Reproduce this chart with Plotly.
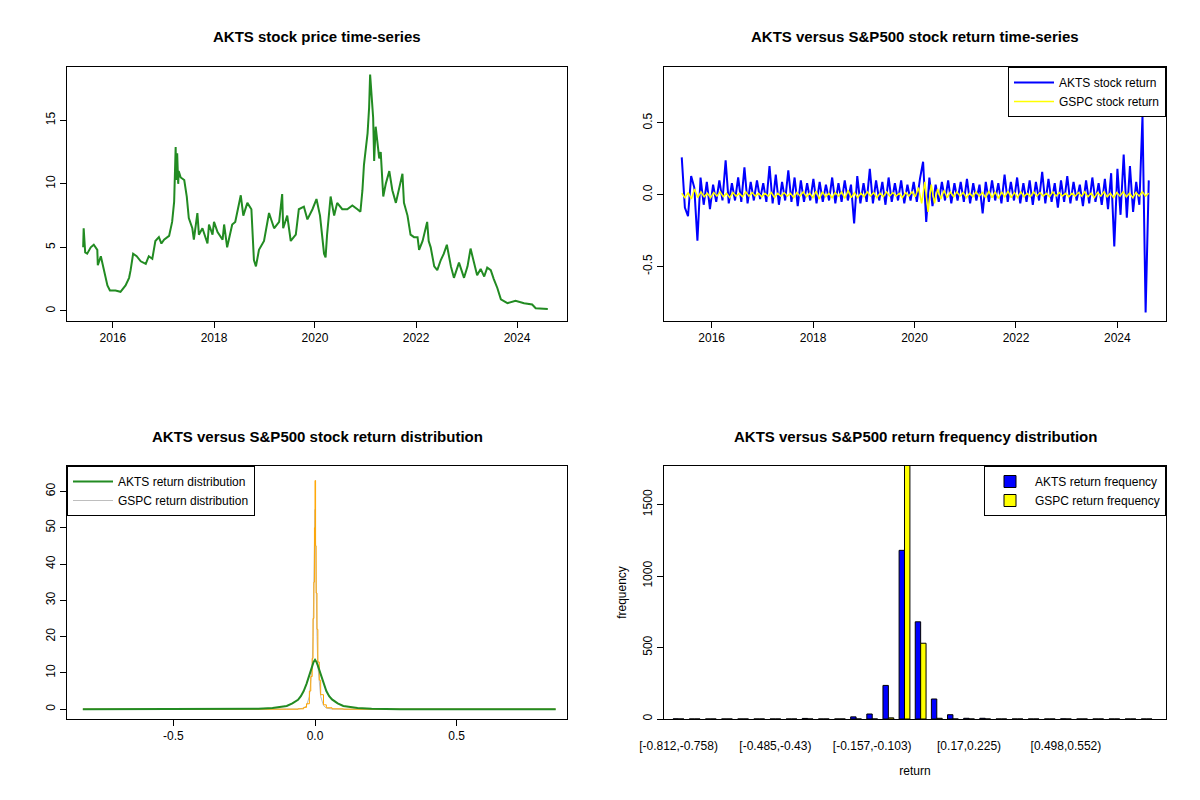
import numpy as np
import pandas as pd
import plotly.graph_objects as go

# ---------------- data ----------------
price_t = [2015.41,2015.42,2015.45,2015.49,2015.56,2015.62,2015.69,2015.70,2015.76,2015.82,2015.89,2015.94,2016.05,2016.15,2016.25,2016.32,2016.35,2016.40,2016.47,2016.55,2016.65,2016.71,2016.78,2016.84,2016.91,2016.96,2017.01,2017.11,2017.17,2017.21,2017.24,2017.25,2017.27,2017.29,2017.30,2017.34,2017.41,2017.46,2017.50,2017.57,2017.60,2017.67,2017.70,2017.77,2017.87,2017.90,2017.97,2018.00,2018.07,2018.17,2018.20,2018.26,2018.36,2018.42,2018.46,2018.53,2018.58,2018.66,2018.74,2018.79,2018.83,2018.89,2018.99,2019.09,2019.19,2019.29,2019.35,2019.37,2019.45,2019.52,2019.62,2019.68,2019.78,2019.85,2019.95,2020.03,2020.10,2020.18,2020.21,2020.24,2020.31,2020.38,2020.44,2020.54,2020.64,2020.74,2020.84,2020.90,2020.94,2020.97,2021.04,2021.07,2021.09,2021.12,2021.15,2021.17,2021.20,2021.27,2021.30,2021.35,2021.40,2021.47,2021.53,2021.60,2021.66,2021.73,2021.76,2021.83,2021.89,2021.96,2022.03,2022.06,2022.13,2022.22,2022.25,2022.29,2022.36,2022.42,2022.49,2022.55,2022.61,2022.69,2022.75,2022.85,2022.95,2023.02,2023.08,2023.15,2023.21,2023.28,2023.35,2023.41,2023.48,2023.54,2023.61,2023.68,2023.81,2023.97,2024.14,2024.30,2024.37,2024.61]
price_v = [5.0,6.5,4.6,4.5,5.0,5.2,4.8,3.6,4.3,3.2,2.0,1.6,1.6,1.5,2.0,2.6,3.2,4.5,4.3,3.9,3.7,4.3,4.1,5.5,5.8,5.3,5.6,5.9,7.0,8.6,12.9,10.3,12.4,10.0,11.0,10.5,10.3,9.0,7.3,6.5,5.6,7.7,6.0,6.5,5.3,6.8,6.0,7.0,6.2,5.6,6.8,5.0,6.8,7.0,7.8,9.1,7.5,8.5,8.0,4.0,3.5,4.8,5.5,7.7,6.5,7.0,9.2,6.5,7.5,5.5,6.0,8.0,8.2,7.2,8.0,8.8,7.5,4.5,4.2,6.0,9.0,7.5,8.5,8.0,8.0,8.3,8.0,7.8,9.5,11.5,14.0,16.0,18.6,17.0,15.2,11.8,14.5,12.0,12.5,9.0,10.0,11.0,9.5,8.5,9.5,10.8,8.5,7.5,6.0,5.8,5.8,4.8,5.5,7.0,5.5,5.0,3.5,3.2,4.0,4.5,5.2,3.5,2.6,3.8,2.6,3.5,4.9,3.8,2.8,3.3,2.7,3.4,3.2,2.5,1.8,0.9,0.6,0.8,0.6,0.5,0.2,0.15]

akts_ret = [0.26,-0.09,-0.15,0.13,0.05,-0.32,0.12,-0.07,0.09,-0.10,0.07,-0.05,0.10,-0.04,0.24,-0.06,0.08,-0.04,0.12,-0.05,0.19,-0.06,0.09,-0.04,0.10,-0.03,0.08,-0.05,0.20,-0.06,0.14,-0.07,0.09,-0.04,0.17,-0.05,0.12,-0.08,0.10,-0.05,0.08,-0.04,0.11,-0.06,0.09,-0.05,0.07,-0.04,0.12,-0.06,0.08,-0.05,0.10,-0.04,0.07,-0.20,0.13,-0.06,0.08,-0.05,0.18,-0.06,0.10,-0.04,0.09,-0.07,0.12,-0.05,0.08,-0.04,0.10,-0.06,0.07,-0.04,0.09,-0.05,0.11,0.23,-0.19,0.12,-0.08,0.07,-0.05,0.09,-0.04,0.10,-0.06,0.08,-0.04,0.09,-0.05,0.11,-0.06,0.08,-0.04,0.07,-0.13,0.09,-0.05,0.10,-0.04,0.08,-0.06,0.14,-0.05,0.09,-0.04,0.12,-0.06,0.08,-0.05,0.10,-0.07,0.09,-0.04,0.16,-0.06,0.11,-0.05,0.08,-0.09,0.10,-0.05,0.13,-0.06,0.09,-0.04,0.07,-0.08,0.10,-0.06,0.12,-0.05,0.08,-0.07,0.11,-0.10,0.15,-0.36,0.18,-0.14,0.28,-0.16,0.20,-0.12,0.09,-0.07,0.55,-0.82,0.10]
gspc_ret = [0.01,-0.02,0.015,-0.03,0.04,-0.02,0.02,-0.015,0.01,-0.02,0.015,-0.01,0.02,-0.015,0.01,-0.02,0.015,-0.01,0.01,-0.015,0.02,-0.01,0.015,-0.01,0.01,-0.015,0.01,-0.01,0.015,-0.02,0.01,-0.01,0.015,-0.01,0.01,-0.02,0.015,-0.01,0.02,-0.015,0.01,-0.02,0.025,-0.03,0.02,-0.015,0.01,-0.02,0.015,-0.01,0.02,-0.025,0.03,-0.02,0.015,-0.02,0.01,-0.015,0.02,-0.01,0.015,-0.02,0.01,-0.015,0.02,-0.01,0.015,-0.01,0.01,-0.02,0.015,-0.01,0.02,-0.015,0.05,-0.06,0.09,-0.12,0.07,-0.06,0.04,-0.03,0.03,-0.02,0.02,-0.015,0.02,-0.01,0.015,-0.02,0.01,-0.015,0.02,-0.01,0.015,-0.02,0.025,-0.02,0.02,-0.025,0.02,-0.015,0.025,-0.02,0.015,-0.02,0.02,-0.015,0.01,-0.015,0.02,-0.01,0.015,-0.01,0.01,-0.015,0.02,-0.01,0.015,-0.01,0.01,-0.015,0.01,-0.01,0.015,-0.01,0.02,-0.015,0.01,-0.02,0.015,-0.01,0.02,-0.015,0.01,-0.02,0.015,-0.01,0.02,-0.015,0.01,-0.02,0.015,-0.01,0.02,-0.01,0.01]

dens_x = [-0.82,-0.3,-0.2,-0.15,-0.1,-0.08,-0.06,-0.05,-0.04,-0.03,-0.02,-0.01,-0.005,0,0.005,0.01,0.02,0.03,0.04,0.05,0.06,0.08,0.1,0.15,0.2,0.3,0.85]
akts_dens = [0,0.01,0.1,0.3,0.9,1.6,2.6,3.6,5,7,9.5,12,13,13.6,13,12,9.5,7,5,3.6,2.7,1.6,0.9,0.3,0.1,0.01,0]
gspc_x = [-0.82,-0.1,-0.06,-0.04,-0.03,-0.02,-0.015,-0.01,-0.007,-0.004,-0.002,0,0.002,0.004,0.007,0.01,0.015,0.02,0.03,0.04,0.06,0.1,0.85]
gspc_dens = [0,0,0.1,0.5,1.5,5,9,14,25,35,50,63,45,32,22,13,8,4,1.2,0.4,0.1,0,0]
gspc_smooth = [0,0,0.05,0.3,1.0,3.5,7,12,20,30,45,55,44,30,20,12,7,3.5,1.0,0.3,0.05,0,0]

akts_freq = [1,0,0,0,0,0,0,0,4,0,0,15,35,235,1180,680,140,30,5,5,0,0,0,0,1,0,0,0,0,0]
gspc_freq = [0,0,0,0,0,0,0,0,0,0,0,0,0,8,1850,530,5,0,0,0,0,0,0,0,0,0,0,0,0,0]
edges = np.round(-0.812 + 0.05457 * np.arange(31), 3)
bins = ["[%g,%g)" % (edges[i], edges[i + 1]) for i in range(30)]
shown_idx = [0, 6, 12, 18, 24]
shown_text = ["[-0.812,-0.758)", "[-0.485,-0.43)", "[-0.157,-0.103)", "[0.17,0.225)", "[0.498,0.552)"]
for i, t in zip(shown_idx, shown_text):
    bins[i] = t
shown_bins = [bins[i] for i in shown_idx]

def to_date(y):
    return pd.Timestamp(int(y), 1, 1) + pd.Timedelta(days=(y % 1) * 365.25)

price_d = [to_date(y) for y in price_t]
ret_d = pd.date_range(to_date(2015.41), to_date(2024.62), periods=len(akts_ret))
ret_d2 = pd.date_range(to_date(2015.41), to_date(2024.62), periods=len(gspc_ret))

fig = go.Figure()
fig.add_trace(go.Scatter(x=price_d, y=price_v, mode="lines", line=dict(color="#228B22", width=2),
                         showlegend=False, xaxis="x", yaxis="y"))
fig.add_trace(go.Scatter(x=ret_d, y=akts_ret, mode="lines", line=dict(color="blue", width=2),
                         name="AKTS stock return", xaxis="x2", yaxis="y2", legend="legend"))
fig.add_trace(go.Scatter(x=ret_d2, y=gspc_ret, mode="lines", line=dict(color="yellow", width=1.5),
                         name="GSPC stock return", xaxis="x2", yaxis="y2", legend="legend"))
fig.add_trace(go.Scatter(x=gspc_x, y=gspc_smooth, mode="lines", line=dict(color="#BEBEBE", width=1),
                         showlegend=False, xaxis="x3", yaxis="y3"))
fig.add_trace(go.Scatter(x=gspc_x, y=gspc_dens, mode="lines", line=dict(color="orange", width=1, shape="hv"),
                         showlegend=False, xaxis="x3", yaxis="y3"))
fig.add_trace(go.Scatter(x=dens_x, y=akts_dens, mode="lines", line=dict(color="#228B22", width=2),
                         name="AKTS return distribution", xaxis="x3", yaxis="y3", legend="legend2"))
fig.add_trace(go.Scatter(x=[None], y=[None], mode="lines", line=dict(color="#BEBEBE", width=1),
                         name="GSPC return distribution", xaxis="x3", yaxis="y3", legend="legend2"))
fig.add_trace(go.Bar(x=bins, y=akts_freq, marker=dict(color="blue", line=dict(color="black", width=1)),
                     name="AKTS return frequency", xaxis="x4", yaxis="y4", legend="legend3"))
fig.add_trace(go.Bar(x=bins, y=gspc_freq, marker=dict(color="yellow", line=dict(color="black", width=1)),
                     name="GSPC return frequency", xaxis="x4", yaxis="y4", legend="legend3"))

font = dict(family="Liberation Sans, Arial", size=12, color="black")
ax = dict(showline=True, linecolor="black", linewidth=1, mirror=True, ticks="outside", ticklen=6,
          tickcolor="black", showgrid=False, zeroline=False, tickfont=font, automargin=False)
OX, OY = 7, 7
W, H = 1200.0, 800.0
def px_x(a, b):
    return [(a - OX) / W, (b - OX) / W]
def px_y(top, bottom):
    return [1 - (bottom - OY) / H, 1 - (top - OY) / H]
dx1 = px_x(66, 566)
dx2 = px_x(663, 1165)
dyt = px_y(66, 320)
dyb = px_y(465, 718)
tick_years = [pd.Timestamp(y, 1, 1) for y in [2016, 2018, 2020, 2022, 2024]]
tick_text = ["2016", "2018", "2020", "2022", "2024"]

legend_base = dict(bordercolor="black", borderwidth=1, bgcolor="white", font=font,
                   tracegroupgap=0, itemwidth=40)
fig.update_layout(
    width=1200, height=800, margin=dict(l=0, r=0, t=0, b=0, autoexpand=False),
    paper_bgcolor="white", plot_bgcolor="white", font=font,
    barmode="group", bargap=0.33, bargroupgap=0,
    xaxis=dict(ax, domain=dx1, anchor="y", type="date", range=[to_date(2015.09), to_date(2024.99)],
               tickvals=tick_years, ticktext=tick_text),
    yaxis=dict(ax, domain=dyt, anchor="x", range=[-0.8, 19.2], tickvals=[0, 5, 10, 15], tickangle=-90),
    xaxis2=dict(ax, domain=dx2, anchor="y2", type="date", range=[to_date(2015.06), to_date(2024.96)],
                tickvals=tick_years, ticktext=tick_text),
    yaxis2=dict(ax, domain=dyt, anchor="x2", range=[-0.88, 0.89], tickvals=[-0.5, 0, 0.5],
                ticktext=["-0.5", "0.0", "0.5"], tickangle=-90),
    xaxis3=dict(ax, domain=dx1, anchor="y3", range=[-0.876, 0.89], tickvals=[-0.5, 0, 0.5],
                ticktext=["-0.5", "0.0", "0.5"]),
    yaxis3=dict(ax, domain=dyb, anchor="x3", range=[-2.7, 67], tickvals=[0, 10, 20, 30, 40, 50, 60], tickangle=-90),
    xaxis4=dict(ax, domain=dx2, anchor="y4", ticks="", tickvals=shown_bins, ticktext=shown_bins,
                ticklabelstandoff=16, range=[-0.9, 30.2],
                title=dict(text="return", font=dict(family="Liberation Sans, Arial", size=12), standoff=14)),
    yaxis4=dict(ax, domain=dyb, anchor="x4", range=[0, 1770], tickvals=[0, 500, 1000, 1500], tickangle=-90,
                title=dict(text="frequency", font=dict(family="Liberation Sans, Arial", size=12), standoff=12)),
    legend=dict(legend_base, x=dx2[1], y=dyt[1], xanchor="right", yanchor="top"),
    legend2=dict(legend_base, x=dx1[0], y=dyb[1], xanchor="left", yanchor="top"),
    legend3=dict(legend_base, x=dx2[1], y=dyb[1], xanchor="right", yanchor="top"),
)

titles = [("AKTS stock price time-series", 316, 35),
          ("AKTS versus S&P500 stock return time-series", 914, 35),
          ("AKTS versus S&P500 stock return distribution", 316, 435),
          ("AKTS versus S&P500 return frequency distribution", 914, 435)]
for t, x, y in titles:
    fig.add_annotation(text="<b>%s</b>" % t, x=(x - OX) / W, y=1 - (y - OY) / H, xref="paper", yref="paper",
                       showarrow=False, xanchor="center", yanchor="middle",
                       font=dict(family="Liberation Sans, Arial", size=15, color="black"))

fig.write_html("out.html")
